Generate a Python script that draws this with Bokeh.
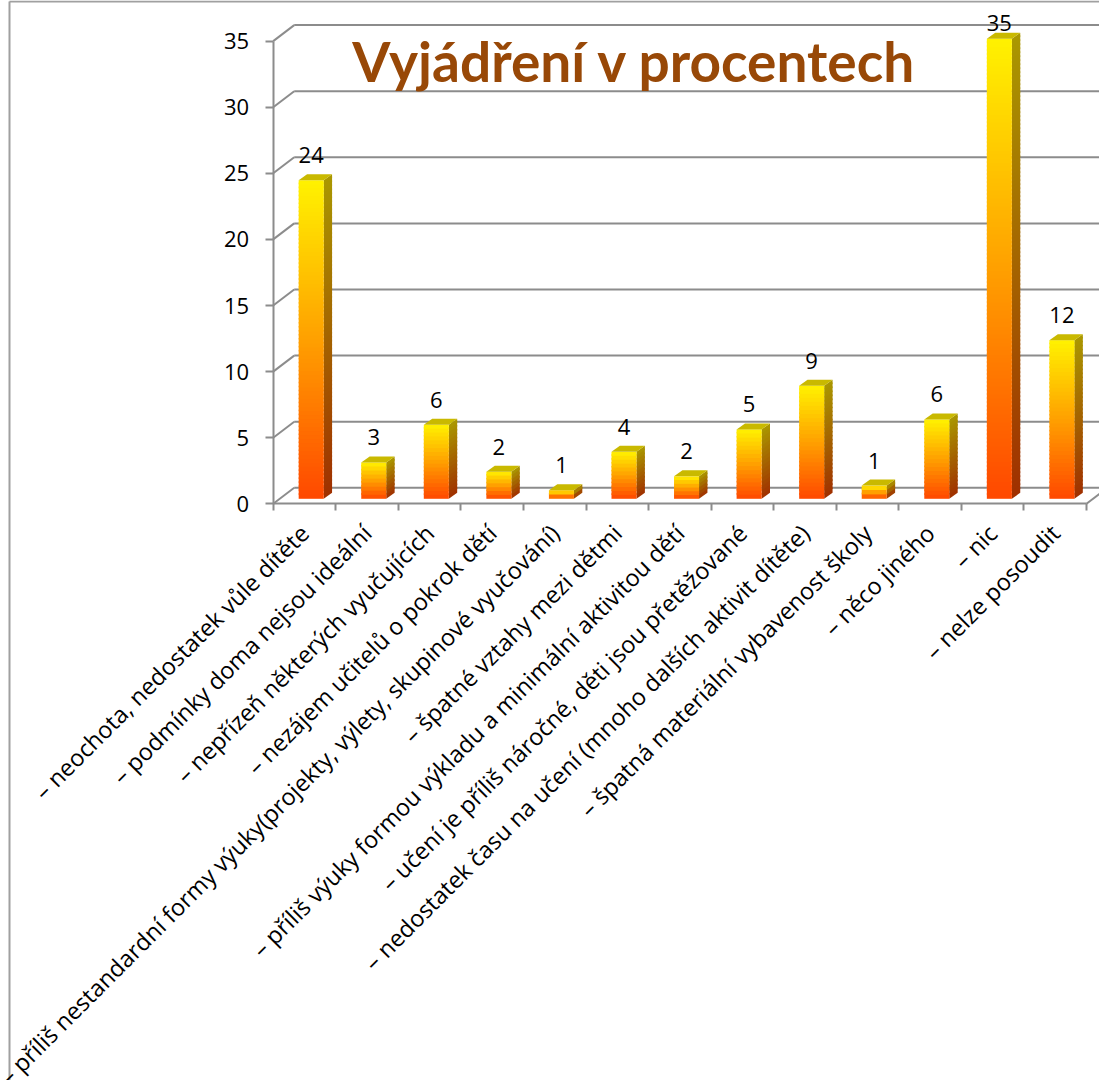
import math
from bokeh.plotting import figure
from bokeh.models import Range1d, FixedTicker, Label
from bokeh.core.properties import value
from bokeh.embed import file_html
from bokeh.resources import INLINE

# ---------------- data ----------------
categories = [
    "– neochota, nedostatek vůle dítěte",
    "– podmínky doma nejsou ideální",
    "– nepřízeň některých vyučujících",
    "– nezájem učitelů o pokrok dětí",
    "– příliš nestandardní formy výuky(projekty, výlety, skupinové vyučování)",
    "– špatné vztahy mezi dětmi",
    "– příliš výuky formou výkladu a minimální aktivitou dětí",
    "– učení je příliš náročné, děti jsou přetěžované",
    "– nedostatek času na učení (mnoho dalších aktivit dítěte)",
    "– špatná materiální vybavenost školy",
    "– něco jiného",
    "– nic",
    "– nelze posoudit",
]
values = [24.1, 2.75, 5.6, 2.05, 0.65, 3.55, 1.7, 5.25, 8.55, 1.0, 6.0, 34.8, 12.0]
y_ticks = [0, 5, 10, 15, 20, 25, 30, 35]
title_text = "Vyjádření v procentech"

# ---------------- geometry (pixel styling converted to data units) ----------------
FONT = "Open Sans"
TITLE_FONT = "Lato"
W, H = 1099, 1080
ORIGIN_X, ORIGIN_Y = 272.7, 503.3      # page position of the axes' origin
PX_X, PX_Y = 62.56, 13.22               # pixels per category / per percent
BAR_W = 25 / PX_X
BAR_DX = 6.7 / PX_X
BAR_DY = 5 / PX_Y
SIDE_DX = 8.4 / PX_X
SIDE_DY = 6 / PX_Y
WALL_DX = 21 / PX_X
WALL_DY = 16 / PX_Y
LABEL_GAP = 25 / PX_Y
LABEL_MAX = 36.35
STRIP_PX = 4.0
BORDER_X = (9 - ORIGIN_X) / PX_X
BORDER_Y = (ORIGIN_Y - 1) / PX_Y

n = len(categories)
x0r, x1r = -ORIGIN_X / PX_X, (W - ORIGIN_X) / PX_X
y0r, y1r = -(H - ORIGIN_Y) / PX_Y, ORIGIN_Y / PX_Y

p = figure(width=W, height=H, output_backend="svg", toolbar_location=None,
           x_range=Range1d(x0r, x1r), y_range=Range1d(y0r, y1r),
           min_border_left=0, min_border_right=0, min_border_top=0,
           min_border_bottom=0)
p.title.visible = False
p.outline_line_color = None
p.xgrid.visible = False
p.ygrid.visible = False
p.background_fill_color = "white"
p.border_fill_color = "white"

GRID = "#8c8c8c"

# chart-area border (left and top edge)
p.segment(x0=[BORDER_X, BORDER_X], y0=[y0r, BORDER_Y], x1=[BORDER_X, x1r], y1=[BORDER_Y, BORDER_Y],
          line_color="#a0a0a0", line_width=2)

# ---------------- back wall gridlines & floor ----------------
gx0 = [WALL_DX] * len(y_ticks)
gy = [t + WALL_DY for t in y_ticks]
p.segment(x0=gx0, y0=gy, x1=[x1r] * len(y_ticks), y1=gy, line_color=GRID, line_width=2)
p.segment(x0=[0] * len(y_ticks), y0=y_ticks, x1=gx0, y1=gy, line_color=GRID, line_width=2)
p.segment(x0=[n], y0=[0], x1=[n + WALL_DX], y1=[WALL_DY], line_color=GRID, line_width=2)


def lerp(c0, c1, t):
    t = max(0.0, min(1.0, t))
    return "#%02x%02x%02x" % tuple(int(round(a + (b - a) * t)) for a, b in zip(c0, c1))


def grad(stops, t):
    for (t0, c0), (t1, c1) in zip(stops[:-1], stops[1:]):
        if t <= t1:
            return lerp(c0, c1, (t - t0) / (t1 - t0))
    return lerp(stops[-1][1], stops[-1][1], 0)


FRONT = [(0.0, (255, 72, 0)), (0.5, (255, 160, 0)), (1.0, (255, 242, 0))]
SIDE = [(0.0, (160, 48, 0)), (0.5, (164, 100, 0)), (1.0, (170, 152, 0))]
TOP = "#c9b900"

fl, fr, fb, ft, fc = [], [], [], [], []
sxs, sys_, sc = [], [], []
txs, tys = [], []
lab_x, lab_y, lab_t = [], [], []
for i, v in enumerate(values):
    xc = i + 0.5 + BAR_DX
    xl = xc - BAR_W / 2
    xr = xc + BAR_W / 2
    ns = max(2, int(round(v * PX_Y / STRIP_PX)))
    for k in range(ns):
        t0 = k / ns
        t1 = min(1.0, (k + 1.4) / ns)
        yb = BAR_DY + v * t0
        yt = BAR_DY + v * t1
        tm = (k + 0.5) / ns
        fl.append(xl); fr.append(xr); fb.append(yb); ft.append(yt)
        fc.append(grad(FRONT, tm))
        sxs.append([xr, xr + SIDE_DX, xr + SIDE_DX, xr])
        sys_.append([yb, yb + SIDE_DY, yt + SIDE_DY, yt])
        sc.append(grad(SIDE, tm))
    ytop = BAR_DY + v
    txs.append([xl, xr, xr + SIDE_DX, xl + SIDE_DX])
    tys.append([ytop, ytop, ytop + SIDE_DY, ytop + SIDE_DY])
    lab_x.append(xc)
    lab_y.append(min(ytop + LABEL_GAP, LABEL_MAX))
    lab_t.append(f"{v:.0f}")

p.patches(xs=sxs, ys=sys_, fill_color=sc, line_color=None)
p.quad(left=fl, right=fr, bottom=fb, top=ft, fill_color=fc, line_color=None)
p.patches(xs=txs, ys=tys, fill_color=TOP, line_color=None)

p.text(x=lab_x, y=lab_y, text=lab_t, text_align="center", text_baseline="alphabetic",
       text_font=value(FONT), text_font_size="22px", text_color="black")

# ---------------- title ----------------
p.add_layout(Label(x=5.775, y=33.5, text=title_text, text_align="center",
                   text_baseline="alphabetic", text_font=TITLE_FONT, text_font_style="bold",
                   text_font_size="55px", text_color="#984807"))

# ---------------- axes ----------------
yax = p.yaxis[0]
yax.fixed_location = 0
yax.ticker = FixedTicker(ticks=y_ticks)
yax.bounds = (0, 35)
yax.major_tick_out = 8
yax.major_tick_in = 0
yax.minor_tick_line_color = None
yax.axis_line_color = GRID
yax.axis_line_width = 2
yax.major_tick_line_color = GRID
yax.major_tick_line_width = 2
yax.major_label_standoff = 16
yax.major_label_text_font = FONT
yax.major_label_text_font_size = "22px"
yax.major_label_text_color = "black"

centers = [i + 0.5 for i in range(n)]
xax = p.xaxis[0]
xax.fixed_location = 0
xax.ticker = FixedTicker(ticks=centers, minor_ticks=list(range(n + 1)))
xax.major_label_overrides = {c: lab for c, lab in zip(centers, categories)}
xax.major_label_orientation = math.pi / 4
xax.major_label_standoff = 18
xax.major_label_text_font = FONT
xax.major_label_text_font_size = "23.5px"
xax.major_label_text_color = "black"
xax.bounds = (0, n)
xax.major_tick_out = 0
xax.major_tick_in = 0
xax.major_tick_line_color = None
xax.minor_tick_out = 7
xax.minor_tick_in = 0
xax.minor_tick_line_color = GRID
xax.minor_tick_line_width = 2
xax.axis_line_color = GRID
xax.axis_line_width = 2

open("out.html", "w").write(file_html(p, INLINE))
